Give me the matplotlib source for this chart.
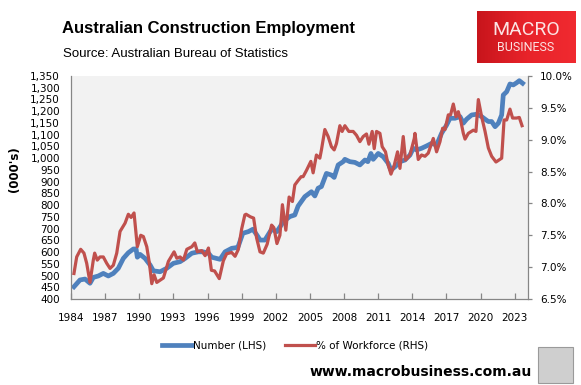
import numpy as np
import matplotlib
matplotlib.use("Agg")
import matplotlib.pyplot as plt
from matplotlib.colors import LinearSegmentedColormap
from matplotlib.patches import Rectangle

# construction employment, '000 (left axis)
num_years = [1984.26, 1984.79, 1985.23, 1985.67, 1985.96, 1986.40, 1986.84, 1987.28, 1987.72, 1988.16,
             1988.60, 1989.04, 1989.48, 1989.72, 1989.83, 1990.07, 1990.51, 1990.95, 1991.24, 1991.83,
             1992.42, 1993.00, 1993.59, 1994.03, 1994.62, 1995.20, 1995.61, 1996.08, 1996.37, 1997.10,
             1997.54, 1998.13, 1998.57, 1998.69, 1999.10, 1999.59, 1999.98, 2000.33, 2000.62, 2001.04,
             2001.63, 2002.09, 2002.38, 2002.65, 2003.23, 2003.67, 2003.96, 2004.55, 2005.13, 2005.43,
             2005.72, 2006.01, 2006.45, 2006.89, 2007.13, 2007.48, 2007.92, 2008.07, 2008.51, 2008.95,
             2009.39, 2009.83, 2010.09, 2010.36, 2010.56, 2011.00, 2011.44, 2011.88, 2012.12, 2012.47,
             2012.91, 2013.35, 2013.79, 2014.08, 2014.37, 2014.81, 2015.25, 2015.69, 2016.13, 2016.57,
             2017.01, 2017.31, 2017.75, 2018.19, 2018.48, 2018.77, 2019.21, 2019.65, 2020.09, 2020.39,
             2020.68, 2020.97, 2021.27, 2021.56, 2021.85, 2021.99, 2022.29, 2022.58, 2022.87, 2023.16,
             2023.40, 2023.69]
number = [452, 481, 485, 467, 492, 498, 509, 498, 509, 531,
          573, 597, 613, 613, 578, 590, 573, 545, 520, 516,
          531, 552, 559, 573, 595, 601, 601, 595, 578, 569,
          601, 616, 619, 623, 680, 687, 697, 673, 651, 651,
          697, 687, 708, 729, 751, 758, 796, 836, 857, 839,
          872, 879, 935, 928, 918, 971, 985, 995, 985, 982,
          971, 992, 985, 1020, 995, 1020, 1006, 978, 949, 963,
          985, 992, 1013, 1042, 1035, 1042, 1052, 1063, 1056, 1106,
          1141, 1170, 1170, 1177, 1149, 1166, 1184, 1187, 1177, 1166,
          1156, 1156, 1134, 1149, 1184, 1269, 1283, 1316, 1312, 1321,
          1330, 1319]

# share of the workforce, % (right axis)
pct_years = [1984.26, 1984.50, 1984.85, 1985.14, 1985.38, 1985.67, 1985.96, 1986.08, 1986.31, 1986.55,
             1986.84, 1987.14, 1987.43, 1987.72, 1988.02, 1988.31, 1988.75, 1989.04, 1989.28, 1989.54,
             1989.83, 1990.13, 1990.36, 1990.66, 1990.89, 1991.10, 1991.30, 1991.54, 1992.12, 1992.56,
             1993.06, 1993.30, 1993.59, 1993.88, 1994.18, 1994.62, 1994.88, 1995.11, 1995.48, 1995.79,
             1996.08, 1996.34, 1996.62, 1997.03, 1997.39, 1997.68, 1998.12, 1998.42, 1998.71, 1999.00,
             1999.28, 1999.39, 1999.76, 2000.05, 2000.31, 2000.61, 2000.90, 2001.24, 2001.63, 2001.83,
             2002.10, 2002.36, 2002.58, 2002.88, 2003.17, 2003.46, 2003.67, 2003.96, 2004.23, 2004.40,
             2004.70, 2005.08, 2005.28, 2005.57, 2005.87, 2006.01, 2006.31, 2006.60, 2006.89, 2007.13,
             2007.33, 2007.63, 2007.83, 2008.07, 2008.42, 2008.80, 2009.09, 2009.39, 2009.68, 2009.97,
             2010.18, 2010.47, 2010.65, 2010.85, 2011.15, 2011.35, 2011.64, 2011.88, 2012.12, 2012.41,
             2012.70, 2012.91, 2013.20, 2013.40, 2013.79, 2014.17, 2014.23, 2014.52, 2014.81, 2015.11,
             2015.40, 2015.84, 2016.13, 2016.43, 2016.66, 2016.87, 2017.16, 2017.36, 2017.60, 2017.84,
             2018.04, 2018.24, 2018.48, 2018.63, 2018.92, 2019.36, 2019.59, 2019.80, 2020.09, 2020.39,
             2020.68, 2020.97, 2021.35, 2021.85, 2022.06, 2022.29, 2022.58, 2022.81, 2023.16, 2023.40,
             2023.64]
pct_workforce = [6.90, 7.16, 7.28, 7.22, 7.06, 6.76, 7.11, 7.22, 7.11, 7.16,
                 7.16, 7.06, 6.98, 7.03, 7.22, 7.56, 7.69, 7.83, 7.78, 7.85,
                 7.32, 7.50, 7.48, 7.32, 7.06, 6.74, 6.88, 6.76, 6.83, 7.09,
                 7.24, 7.14, 7.16, 7.11, 7.28, 7.32, 7.38, 7.24, 7.26, 7.18,
                 7.30, 6.95, 6.94, 6.82, 7.10, 7.21, 7.23, 7.17, 7.28, 7.60,
                 7.82, 7.83, 7.79, 7.77, 7.46, 7.24, 7.22, 7.36, 7.66, 7.62,
                 7.37, 7.50, 7.98, 7.58, 8.10, 8.03, 8.29, 8.36, 8.42, 8.42,
                 8.52, 8.66, 8.48, 8.76, 8.71, 8.84, 9.16, 9.05, 8.89, 8.84,
                 8.94, 9.22, 9.13, 9.22, 9.13, 9.13, 9.07, 8.97, 9.05, 9.09,
                 8.93, 9.13, 8.86, 9.13, 9.10, 8.89, 8.81, 8.60, 8.46, 8.60,
                 8.81, 8.55, 9.05, 8.68, 8.76, 9.02, 9.10, 8.69, 8.76, 8.74,
                 8.79, 9.02, 8.81, 8.97, 9.18, 9.16, 9.39, 9.39, 9.56, 9.36,
                 9.44, 9.31, 9.10, 9.01, 9.10, 9.15, 9.13, 9.63, 9.36, 9.13,
                 8.87, 8.74, 8.65, 8.71, 9.31, 9.31, 9.48, 9.34, 9.34, 9.35,
                 9.22]

tick_years = list(range(1984, 2024, 3))
left_ticks = list(range(400, 1351, 50))
right_ticks = [6.5, 7.0, 7.5, 8.0, 8.5, 9.0, 9.5, 10.0]

blue = "#4F81BD"
red = "#C0504D"
grey = "#868686"

fig = plt.figure(figsize=(5.81, 3.85), dpi=100)
ax = fig.add_axes([0.1222, 0.2234, 0.7861, 0.5792])
ax.set_facecolor("#F2F2F2")
ax2 = ax.twinx()

l1, = ax.plot(num_years, number, color=blue, lw=3.4, solid_joinstyle="round",
              label="Number (LHS)")
l2, = ax2.plot(pct_years, pct_workforce, color=red, lw=2.3, solid_joinstyle="round",
               label="% of Workforce (RHS)")

ax.set_xlim(1984.0, 2024.14)
ax.set_ylim(400, 1350)
ax2.set_ylim(6.5, 10.0)

ax.set_xticks(tick_years)
ax.set_xticklabels([str(y) for y in tick_years])
ax.set_yticks(left_ticks)
ax.set_yticklabels(["{:,}".format(v) for v in left_ticks])
ax2.set_yticks(right_ticks)
ax2.set_yticklabels(["{:.1f}%".format(v) for v in right_ticks])

ax.tick_params(axis="x", direction="in", length=4, width=0.9, color=grey, pad=10.4,
               labelsize=7.5)
ax.tick_params(axis="y", length=0, pad=7.9, labelsize=7.5)
ax2.tick_params(axis="y", direction="out", length=3, width=0.9, color=grey, pad=6,
                labelsize=7.5)

for s in ["top", "right"]:
    ax.spines[s].set_visible(False)
for s in ["top", "left", "bottom"]:
    ax2.spines[s].set_visible(False)
for a, s in [(ax, "left"), (ax, "bottom"), (ax2, "right")]:
    a.spines[s].set_color(grey)
    a.spines[s].set_linewidth(0.9)

fig.text(0.0258, 0.561, "(000's)", rotation=90, ha="center", va="center",
         fontsize=8.5, fontweight="bold")

fig.text(0.1067, 0.9143, "Australian Construction Employment", ha="left", va="baseline",
         fontsize=12, fontweight="bold", family="Liberation Sans")
fig.text(0.1084, 0.8512, "Source: Australian Bureau of Statistics", ha="left", va="baseline",
         fontsize=9.5, family="Liberation Sans")

leg = fig.legend(handles=[l1, l2], loc="center left", bbox_to_anchor=(0.2783, 0.1013),
                 ncol=2, frameon=False, fontsize=7.5, handlelength=2.9, handletextpad=0.1,
                 columnspacing=1.8, borderpad=0, borderaxespad=0)

fig.text(0.9157, 0.0242, "www.macrobusiness.com.au", ha="right", va="baseline",
         fontsize=10, fontweight="bold")

# MacroBusiness logo box
logo = fig.add_axes([0.8205, 0.8356, 0.1692, 0.1358])
cmap = LinearSegmentedColormap.from_list("logo", ["#C8151C", "#E8232A", "#F02A30"])
logo.imshow(np.linspace(0, 1, 64).reshape(1, -1), cmap=cmap, aspect="auto",
            extent=[0, 1, 0, 1])
logo.set_axis_off()
logo.text(0.5, 0.63, "MACRO", color="#FBE3E3", ha="center", va="center", fontsize=14,
          family="Roboto", transform=logo.transAxes)
logo.text(0.5, 0.31, "BUSINESS", color="#FBE3E3", ha="center", va="center", fontsize=9,
          family="Roboto", transform=logo.transAxes)

# wolf badge placeholder
fig.patches.append(Rectangle((0.926, 0.0052), 0.0602, 0.0935, transform=fig.transFigure,
                             facecolor="#CFCFCF", edgecolor="#9A9A9A", lw=0.8))

fig.savefig("out.png", dpi=100)
